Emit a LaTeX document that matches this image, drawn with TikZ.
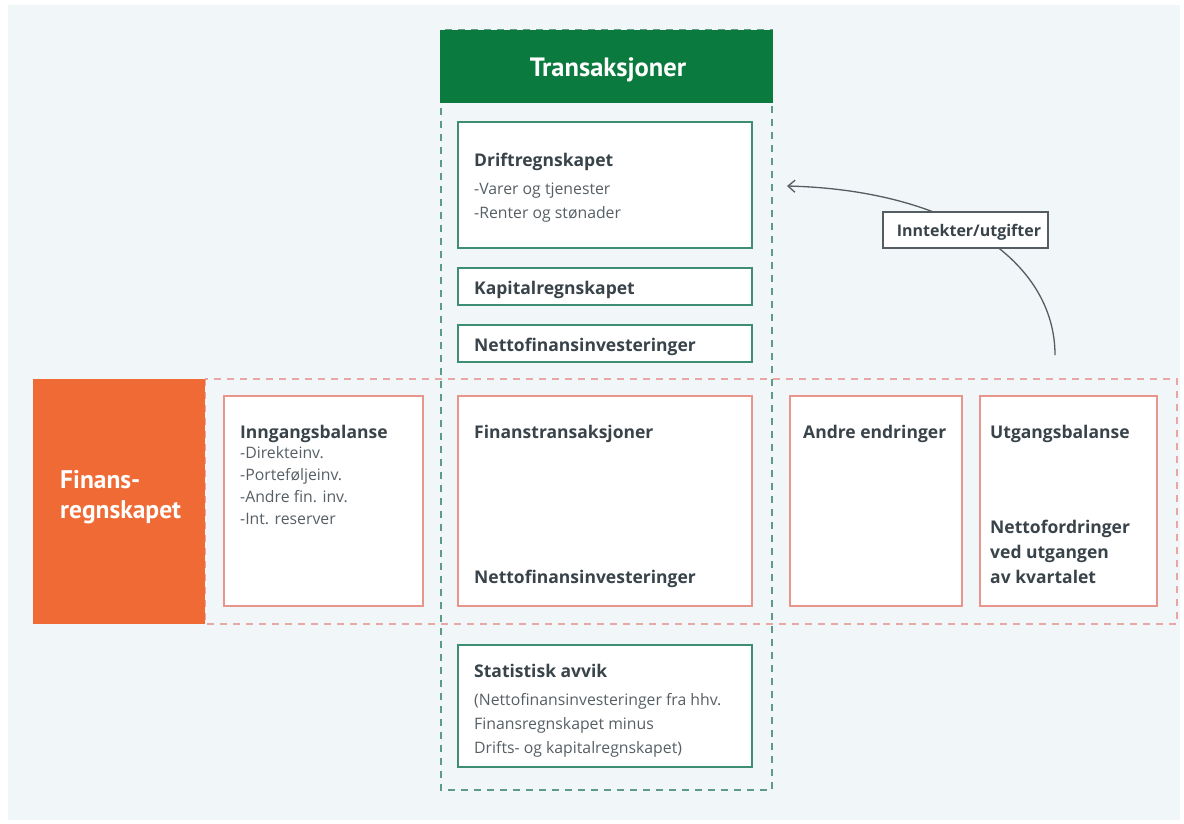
\documentclass[tikz,border=0pt]{standalone}
\usepackage{fontspec}
\setmainfont{Open Sans}
\newfontfamily\headfont{PT Sans}
\usetikzlibrary{arrows.meta}
\definecolor{bg}{HTML}{F1F6F8}
\definecolor{hgreen}{HTML}{0B7A3E}
\definecolor{gborder}{HTML}{3E8E74}
\definecolor{gdash}{HTML}{5E9A88}
\definecolor{oborder}{HTML}{E8958C}
\definecolor{odash}{HTML}{E8A6A4}
\definecolor{orangeblk}{HTML}{F06A35}
\definecolor{txt}{HTML}{39434A}
\definecolor{arrowc}{HTML}{555D62}
\tikzset{
  gbox/.style={draw=gborder, line width=1.4pt, fill=white, inner sep=0pt},
  obox/.style={draw=oborder, line width=1.4pt, fill=white, inner sep=0pt},
  ttl/.style={anchor=base west, inner sep=0pt, text=txt, font=\fontsize{17.5}{20}\selectfont\bfseries},
  itm/.style={anchor=base west, inner sep=0pt, text=txt!85, font=\fontsize{15.8}{18}\selectfont},
  whead/.style={inner sep=0pt, text=white, font=\headfont\bfseries},
  gdashed/.style={draw=gdash, line width=1.4pt, dash pattern=on 7pt off 6pt},
  odashed/.style={draw=odash, line width=1.4pt, dash pattern=on 7pt off 6pt},
}
\begin{document}
\begin{tikzpicture}[x=1pt, y=-1pt]
\useasboundingbox (0,0) rectangle (1184,823);
\fill[white] (0,0) rectangle (1184,823);
\fill[bg] (8,5) rectangle (1180,820);
% frames
\draw[odashed] (205,379) rectangle (1177,624);
\draw[gdashed] (441,30) rectangle (772,790);
% green header
\node[fill=hgreen, minimum width=333pt, minimum height=73pt, inner sep=0pt] (head) at (606.5,66.5) {};
\node[whead, anchor=base, font=\headfont\bfseries\fontsize{26.5}{30}\selectfont] (headt) at (608,76) {Transaksjoner};
% orange block
\node[fill=orangeblk, minimum width=172pt, minimum height=245pt, inner sep=0pt] (fin) at (119,501.5) {};
\node[whead, anchor=base west, font=\headfont\bfseries\fontsize{25.5}{30}\selectfont] (fint1) at (60,488) {Finans-};
\node[whead, anchor=base west, font=\headfont\bfseries\fontsize{25.5}{30}\selectfont] (fint2) at (60,518) {regnskapet};
% green boxes
\node[gbox, minimum width=294pt, minimum height=126pt] (drift) at (605,185) {};
\node[ttl] (driftt) at (474,166) {Driftregnskapet};
\node[itm] (drifti1) at (474,194) {-Varer og tjenester};
\node[itm] (drifti2) at (474,218) {-Renter og stønader};
\node[gbox, minimum width=294pt, minimum height=37pt] (kap) at (605,286.5) {};
\node[ttl] (kapt) at (474,294) {Kapitalregnskapet};
\node[gbox, minimum width=294pt, minimum height=37pt] (netto) at (605,343.5) {};
\node[ttl] (nettot) at (474,351) {Nettofinansinvesteringer};
\node[gbox, minimum width=294pt, minimum height=122pt] (stat) at (605,706) {};
\node[ttl] (statt) at (474,677) {Statistisk avvik};
\node[itm] (stati1) at (474,705) {(Nettofinansinvesteringer fra hhv.};
\node[itm] (stati2) at (474,729) {Finansregnskapet minus};
\node[itm] (stati3) at (474,753) {Drifts- og kapitalregnskapet)};
% orange boxes
\node[obox, minimum width=199pt, minimum height=210pt] (inng) at (323.5,501) {};
\node[ttl] (inngt) at (240,438) {Inngangsbalanse};
\node[itm] (inngi1) at (240,458) {-Direkteinv.};
\node[itm] (inngi2) at (240,480) {-Porteføljeinv.};
\node[itm] (inngi3) at (240,502) {-Andre fin. inv.};
\node[itm] (inngi4) at (240,524) {-Int. reserver};
\node[obox, minimum width=294pt, minimum height=210pt] (fint) at (605,501) {};
\node[ttl] (fintt) at (474,438) {Finanstransaksjoner};
\node[ttl] (fintb) at (474,583) {Nettofinansinvesteringer};
\node[obox, minimum width=172pt, minimum height=210pt] (andre) at (876,501) {};
\node[ttl] (andret) at (803,438) {Andre endringer};
\node[obox, minimum width=177pt, minimum height=210pt] (utg) at (1068.5,501) {};
\node[ttl] (utgt) at (990,438) {Utgangsbalanse};
\node[ttl] (utgb1) at (990,533) {Nettofordringer};
\node[ttl] (utgb2) at (990,558) {ved utgangen};
\node[ttl] (utgb3) at (990,583) {av kvartalet};
% arrow
\coordinate (as) at (1055,355);
\coordinate (ae) at (787,186);
\draw[arrowc, line width=1.3pt, -{Straight Barb[length=7pt, width=12pt]}] (as) .. controls (1055,260) and (950,190) .. (ae);
\node[draw=arrowc, line width=1.3pt, fill=white, minimum width=165pt, minimum height=36pt, inner sep=0pt] (lbl) at (965.5,230) {};
\node[anchor=base, inner sep=0pt, text=txt, font=\fontsize{16}{19}\selectfont\bfseries] (lblt) at (969,236) {Inntekter/utgifter};
\end{tikzpicture}
\end{document}
